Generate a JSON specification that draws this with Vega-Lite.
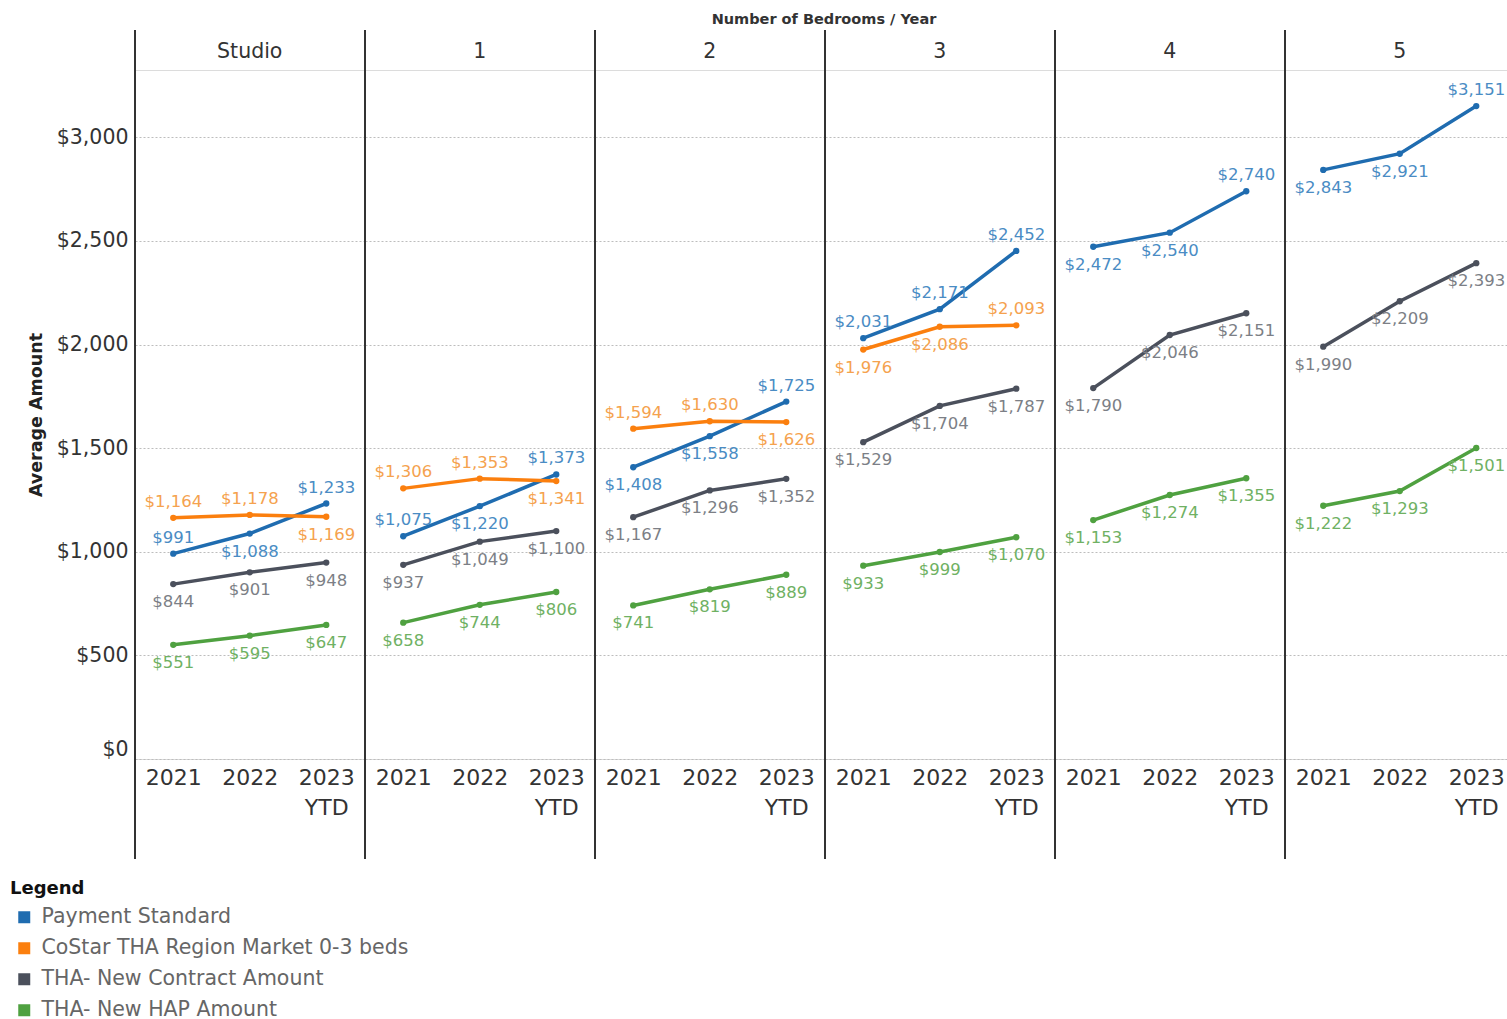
{
  "$schema": "https://vega.github.io/schema/vega-lite/v6.json",
  "padding": {"left": 10, "top": 11, "right": 0, "bottom": 0},
  "background": "white",
  "bounds": "flush",
  "config": {
    "font": "DejaVu Sans",
    "view": {"stroke": "#dcdcdc", "strokeWidth": 1},
    "text": {"font": "DejaVu Sans"}
  },
  "data": {
    "values": [
      {"bedrooms": "Studio", "year": "2021", "series": "Payment Standard", "value": 991},
      {"bedrooms": "Studio", "year": "2022", "series": "Payment Standard", "value": 1088},
      {"bedrooms": "Studio", "year": "2023 YTD", "series": "Payment Standard", "value": 1233},
      {"bedrooms": "Studio", "year": "2021", "series": "CoStar THA Region Market 0-3 beds", "value": 1164},
      {"bedrooms": "Studio", "year": "2022", "series": "CoStar THA Region Market 0-3 beds", "value": 1178},
      {"bedrooms": "Studio", "year": "2023 YTD", "series": "CoStar THA Region Market 0-3 beds", "value": 1169},
      {"bedrooms": "Studio", "year": "2021", "series": "THA- New Contract Amount", "value": 844},
      {"bedrooms": "Studio", "year": "2022", "series": "THA- New Contract Amount", "value": 901},
      {"bedrooms": "Studio", "year": "2023 YTD", "series": "THA- New Contract Amount", "value": 948},
      {"bedrooms": "Studio", "year": "2021", "series": "THA- New HAP Amount", "value": 551},
      {"bedrooms": "Studio", "year": "2022", "series": "THA- New HAP Amount", "value": 595},
      {"bedrooms": "Studio", "year": "2023 YTD", "series": "THA- New HAP Amount", "value": 647},

      {"bedrooms": "1", "year": "2021", "series": "Payment Standard", "value": 1075},
      {"bedrooms": "1", "year": "2022", "series": "Payment Standard", "value": 1220},
      {"bedrooms": "1", "year": "2023 YTD", "series": "Payment Standard", "value": 1373},
      {"bedrooms": "1", "year": "2021", "series": "CoStar THA Region Market 0-3 beds", "value": 1306},
      {"bedrooms": "1", "year": "2022", "series": "CoStar THA Region Market 0-3 beds", "value": 1353},
      {"bedrooms": "1", "year": "2023 YTD", "series": "CoStar THA Region Market 0-3 beds", "value": 1341},
      {"bedrooms": "1", "year": "2021", "series": "THA- New Contract Amount", "value": 937},
      {"bedrooms": "1", "year": "2022", "series": "THA- New Contract Amount", "value": 1049},
      {"bedrooms": "1", "year": "2023 YTD", "series": "THA- New Contract Amount", "value": 1100},
      {"bedrooms": "1", "year": "2021", "series": "THA- New HAP Amount", "value": 658},
      {"bedrooms": "1", "year": "2022", "series": "THA- New HAP Amount", "value": 744},
      {"bedrooms": "1", "year": "2023 YTD", "series": "THA- New HAP Amount", "value": 806},

      {"bedrooms": "2", "year": "2021", "series": "Payment Standard", "value": 1408},
      {"bedrooms": "2", "year": "2022", "series": "Payment Standard", "value": 1558},
      {"bedrooms": "2", "year": "2023 YTD", "series": "Payment Standard", "value": 1725},
      {"bedrooms": "2", "year": "2021", "series": "CoStar THA Region Market 0-3 beds", "value": 1594},
      {"bedrooms": "2", "year": "2022", "series": "CoStar THA Region Market 0-3 beds", "value": 1630},
      {"bedrooms": "2", "year": "2023 YTD", "series": "CoStar THA Region Market 0-3 beds", "value": 1626},
      {"bedrooms": "2", "year": "2021", "series": "THA- New Contract Amount", "value": 1167},
      {"bedrooms": "2", "year": "2022", "series": "THA- New Contract Amount", "value": 1296},
      {"bedrooms": "2", "year": "2023 YTD", "series": "THA- New Contract Amount", "value": 1352},
      {"bedrooms": "2", "year": "2021", "series": "THA- New HAP Amount", "value": 741},
      {"bedrooms": "2", "year": "2022", "series": "THA- New HAP Amount", "value": 819},
      {"bedrooms": "2", "year": "2023 YTD", "series": "THA- New HAP Amount", "value": 889},

      {"bedrooms": "3", "year": "2021", "series": "Payment Standard", "value": 2031},
      {"bedrooms": "3", "year": "2022", "series": "Payment Standard", "value": 2171},
      {"bedrooms": "3", "year": "2023 YTD", "series": "Payment Standard", "value": 2452},
      {"bedrooms": "3", "year": "2021", "series": "CoStar THA Region Market 0-3 beds", "value": 1976},
      {"bedrooms": "3", "year": "2022", "series": "CoStar THA Region Market 0-3 beds", "value": 2086},
      {"bedrooms": "3", "year": "2023 YTD", "series": "CoStar THA Region Market 0-3 beds", "value": 2093},
      {"bedrooms": "3", "year": "2021", "series": "THA- New Contract Amount", "value": 1529},
      {"bedrooms": "3", "year": "2022", "series": "THA- New Contract Amount", "value": 1704},
      {"bedrooms": "3", "year": "2023 YTD", "series": "THA- New Contract Amount", "value": 1787},
      {"bedrooms": "3", "year": "2021", "series": "THA- New HAP Amount", "value": 933},
      {"bedrooms": "3", "year": "2022", "series": "THA- New HAP Amount", "value": 999},
      {"bedrooms": "3", "year": "2023 YTD", "series": "THA- New HAP Amount", "value": 1070},

      {"bedrooms": "4", "year": "2021", "series": "Payment Standard", "value": 2472},
      {"bedrooms": "4", "year": "2022", "series": "Payment Standard", "value": 2540},
      {"bedrooms": "4", "year": "2023 YTD", "series": "Payment Standard", "value": 2740},
      {"bedrooms": "4", "year": "2021", "series": "THA- New Contract Amount", "value": 1790},
      {"bedrooms": "4", "year": "2022", "series": "THA- New Contract Amount", "value": 2046},
      {"bedrooms": "4", "year": "2023 YTD", "series": "THA- New Contract Amount", "value": 2151},
      {"bedrooms": "4", "year": "2021", "series": "THA- New HAP Amount", "value": 1153},
      {"bedrooms": "4", "year": "2022", "series": "THA- New HAP Amount", "value": 1274},
      {"bedrooms": "4", "year": "2023 YTD", "series": "THA- New HAP Amount", "value": 1355},

      {"bedrooms": "5", "year": "2021", "series": "Payment Standard", "value": 2843},
      {"bedrooms": "5", "year": "2022", "series": "Payment Standard", "value": 2921},
      {"bedrooms": "5", "year": "2023 YTD", "series": "Payment Standard", "value": 3151},
      {"bedrooms": "5", "year": "2021", "series": "THA- New Contract Amount", "value": 1990},
      {"bedrooms": "5", "year": "2022", "series": "THA- New Contract Amount", "value": 2209},
      {"bedrooms": "5", "year": "2023 YTD", "series": "THA- New Contract Amount", "value": 2393},
      {"bedrooms": "5", "year": "2021", "series": "THA- New HAP Amount", "value": 1222},
      {"bedrooms": "5", "year": "2022", "series": "THA- New HAP Amount", "value": 1293},
      {"bedrooms": "5", "year": "2023 YTD", "series": "THA- New HAP Amount", "value": 1501}
    ]
  },
  "transform": [
    {
      "calculate": "(datum.series == 'Payment Standard' && (datum.year == '2023 YTD' || datum.bedrooms == '3' || (datum.year == '2021' && (datum.bedrooms == 'Studio' || datum.bedrooms == '1')))) || (datum.series == 'CoStar THA Region Market 0-3 beds' && ((datum.bedrooms != '3' && datum.year != '2023 YTD') || (datum.bedrooms == '3' && datum.year == '2023 YTD')))",
      "as": "labelAbove"
    }
  ],
  "facet": {
    "column": {
      "field": "bedrooms",
      "type": "ordinal",
      "sort": ["Studio", "1", "2", "3", "4", "5"],
      "title": "Number of Bedrooms / Year",
      "header": {
        "titleFont": "DejaVu Sans",
        "titleFontSize": 14.5,
        "titleFontWeight": "bold",
        "titleColor": "#333333",
        "titlePadding": 4,
        "labelFont": "DejaVu Sans",
        "labelFontSize": 20.5,
        "labelColor": "#333333",
        "labelPadding": 8
      }
    }
  },
  "spacing": 0,
  "spec": {
    "width": 229.5,
    "height": 689,
    "encoding": {
      "x": {
        "field": "year",
        "type": "ordinal",
        "sort": ["2021", "2022", "2023 YTD"],
        "scale": {"type": "point", "padding": 0.5},
        "axis": {
          "title": null,
          "labelAngle": 0,
          "labelFont": "DejaVu Sans",
          "labelFontSize": 22,
          "labelColor": "#333333",
          "labelPadding": 8,
          "labelLineHeight": 30,
          "labelExpr": "split(datum.label, ' ')",
          "ticks": false,
          "domain": false
        }
      },
      "y": {
        "field": "value",
        "type": "quantitative",
        "scale": {"domain": [0, 3325], "nice": false},
        "axis": {
          "title": "Average Amount",
          "titleFont": "DejaVu Sans",
          "titleFontSize": 17.5,
          "titleFontWeight": "bold",
          "titleColor": "#222222",
          "titlePadding": 11,
          "labelFont": "DejaVu Sans",
          "labelFontSize": 20.5,
          "labelColor": "#333333",
          "labelPadding": 7,
          "labelFlush": true,
          "format": "$,.0f",
          "values": [0, 500, 1000, 1500, 2000, 2500, 3000],
          "grid": true,
          "gridDash": [2, 2],
          "gridColor": "#bdbdbd",
          "ticks": false,
          "domain": false
        }
      }
    },
    "layer": [
      {
        "transform": [{"filter": "datum.year == '2021' && datum.series == 'THA- New HAP Amount'"}],
        "mark": {"type": "rule", "color": "#333333", "strokeWidth": 2},
        "encoding": {
          "x": {"value": 0},
          "y": {"value": -40},
          "y2": {"value": 789}
        }
      },
      {
        "mark": {"type": "line", "strokeWidth": 3.5, "point": {"size": 40, "filled": true}},
        "encoding": {
          "color": {
            "field": "series",
            "type": "nominal",
            "sort": ["Payment Standard", "CoStar THA Region Market 0-3 beds", "THA- New Contract Amount", "THA- New HAP Amount"],
            "scale": {
              "domain": ["Payment Standard", "CoStar THA Region Market 0-3 beds", "THA- New Contract Amount", "THA- New HAP Amount"],
              "range": ["#1f6cb0", "#fb7f0e", "#4b505c", "#4fa140"]
            },
            "legend": {
              "title": "Legend",
              "orient": "none",
              "legendX": -125,
              "legendY": 810,
              "titleFont": "DejaVu Sans",
              "titleFontSize": 18,
              "titleFontWeight": "bold",
              "titleColor": "#111111",
              "titlePadding": 9,
              "labelFont": "DejaVu Sans",
              "labelFontSize": 20.5,
              "labelColor": "#666666",
              "labelLimit": 0,
              "symbolType": "square",
              "symbolSize": 144,
              "symbolStrokeWidth": 0,
              "symbolOffset": 4,
              "rowPadding": 10,
              "labelOffset": 7
            }
          }
        }
      },
      {
        "transform": [{"filter": "datum.labelAbove"}],
        "mark": {"type": "text", "font": "DejaVu Sans", "fontSize": 16.5, "dy": -16, "baseline": "middle"},
        "encoding": {
          "text": {"field": "value", "type": "quantitative", "format": "$,.0f"},
          "fill": {
            "field": "series",
            "type": "nominal",
            "scale": {
              "domain": ["Payment Standard", "CoStar THA Region Market 0-3 beds", "THA- New Contract Amount", "THA- New HAP Amount"],
              "range": ["#4a8cc4", "#f5a24e", "#7c7f86", "#6fb163"]
            },
            "legend": null
          }
        }
      },
      {
        "transform": [{"filter": "!datum.labelAbove"}],
        "mark": {"type": "text", "font": "DejaVu Sans", "fontSize": 16.5, "dy": 18, "baseline": "middle"},
        "encoding": {
          "text": {"field": "value", "type": "quantitative", "format": "$,.0f"},
          "fill": {
            "field": "series",
            "type": "nominal",
            "scale": {
              "domain": ["Payment Standard", "CoStar THA Region Market 0-3 beds", "THA- New Contract Amount", "THA- New HAP Amount"],
              "range": ["#4a8cc4", "#f5a24e", "#7c7f86", "#6fb163"]
            },
            "legend": null
          }
        }
      }
    ]
  }
}
